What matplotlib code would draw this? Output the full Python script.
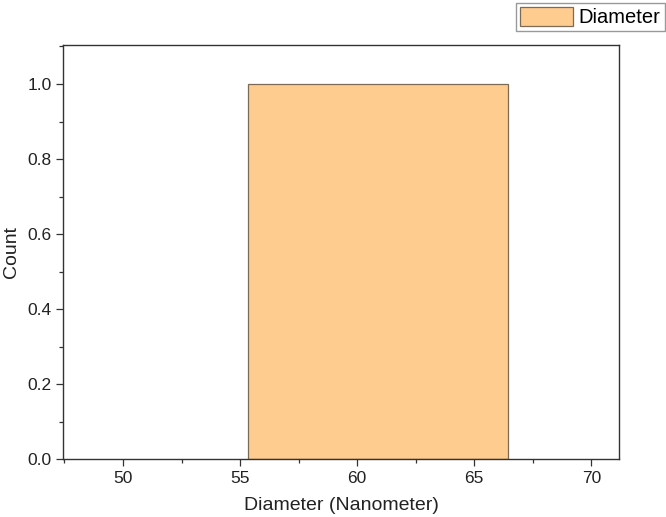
import matplotlib
matplotlib.use("Agg")
import matplotlib.pyplot as plt
from matplotlib.ticker import MultipleLocator, FormatStrFormatter

# histogram: one bin holding one measurement
bin_edges = [55.35, 66.43]
counts = [1]
label = "Diameter"

plt.rcParams["font.family"] = ["Liberation Sans", "DejaVu Sans"]

fig = plt.figure(figsize=(6.66, 5.17), dpi=100)
ax = fig.add_axes([0.095, 0.112, 0.835, 0.801])

lefts = bin_edges[:-1]
widths = [b - a for a, b in zip(bin_edges[:-1], bin_edges[1:])]
ax.bar(lefts, counts, width=widths, align="edge", color="#ffcc90",
       edgecolor="#7d6a55", linewidth=0.9, label=label)

ax.set_xlim(47.45, 71.2)
ax.set_ylim(0, 1.104)
ax.xaxis.set_major_locator(MultipleLocator(5))
ax.xaxis.set_minor_locator(MultipleLocator(2.5))
ax.yaxis.set_major_locator(MultipleLocator(0.2))
ax.yaxis.set_minor_locator(MultipleLocator(0.1))
ax.yaxis.set_major_formatter(FormatStrFormatter("%.1f"))
ax.tick_params(which="major", direction="out", length=5, width=0.9,
               labelsize=12.5, color="#333333", labelcolor="#222222")
ax.tick_params(which="minor", direction="out", length=3, width=0.9,
               color="#333333")
for s in ax.spines.values():
    s.set_linewidth(1.0)
    s.set_color("#333333")

ax.set_xlabel("Diameter (Nanometer)", fontsize=14, color="#222222", labelpad=8)
ax.set_ylabel("Count", fontsize=14, color="#222222", labelpad=5)

fig.legend(loc="upper right", bbox_to_anchor=(0.998, 0.995), fontsize=14.5,
           fancybox=False, edgecolor="#999999", framealpha=1,
           handlelength=2.6, handleheight=1.1, borderpad=0.2,
           handletextpad=0.3, borderaxespad=0)

fig.savefig("out.png", dpi=100)
